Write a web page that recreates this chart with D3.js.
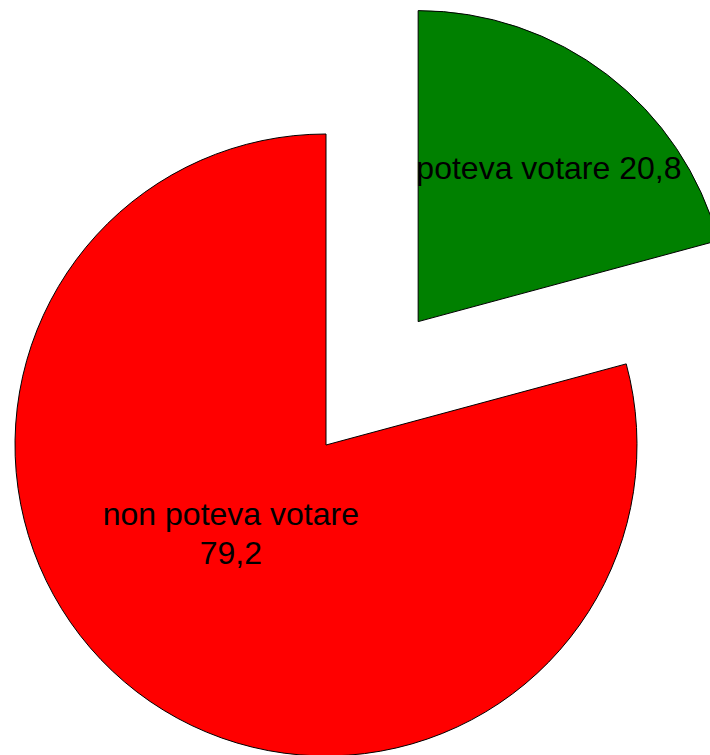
<!DOCTYPE html>
<html>
<head>
<meta charset="utf-8">
<script src="https://cdn.jsdelivr.net/npm/d3@7"></script>
<style>
  html, body { margin: 0; padding: 0; background: #fff; }
  svg { display: block; }
</style>
</head>
<body>
<svg id="chart" width="710" height="755"></svg>
<script>
// Data
const categories = ["poteva votare", "non poteva votare"];
const values = [20.8, 79.2];
const valueLabels = ["20,8", "79,2"];
const colors = ["#008000", "#FF0000"];
const exploded = [true, false];

const W = 710, H = 755;
const cx = 326, cy = 445, R = 311;
const explodeDist = 154;

const svg = d3.select("#chart");

const pie = d3.pie().sort(null).value(d => d.value);
const data = pie(categories.map((c, i) => ({ name: c, value: values[i], label: valueLabels[i], color: colors[i], exploded: exploded[i] })));

const arc = d3.arc().innerRadius(0).outerRadius(R);

const g = svg.append("g").attr("transform", `translate(${cx},${cy})`);

function offset(d) {
  if (!d.data.exploded) return [0, 0];
  const a = (d.startAngle + d.endAngle) / 2 - 0.012;
  return [Math.sin(a) * explodeDist, -Math.cos(a) * explodeDist];
}

const slices = g.selectAll("g.slice").data(data).enter().append("g")
  .attr("class", "slice")
  .attr("transform", d => { const o = offset(d); return `translate(${o[0]},${o[1]})`; });

slices.append("path")
  .attr("d", arc)
  .attr("fill", d => d.data.color)
  .attr("stroke", "#000")
  .attr("stroke-width", 1);

// label placement (polar, relative to slice centre)
const labelPolar = [
  { angle: 40.3, r: 0.65, lines: d => [d.data.name + " " + d.data.label] },
  { angle: 227.2, r: 0.417, lines: d => [d.data.name, d.data.label] }
];

slices.each(function(d, i) {
  const lp = labelPolar[i];
  const a = lp.angle * Math.PI / 180;
  const x = Math.sin(a) * lp.r * R;
  const y = -Math.cos(a) * lp.r * R;
  const lines = lp.lines(d);
  const lh = 39;
  const t = d3.select(this).append("text")
    .attr("text-anchor", "middle")
    .attr("font-family", "'Liberation Sans', Arial, sans-serif")
    .attr("font-size", 32)
    .attr("fill", "#000");
  lines.forEach((ln, k) => {
    t.append("tspan")
      .attr("x", x)
      .attr("y", y + (k - (lines.length - 1) / 2) * lh)
      .attr("dy", "0.35em")
      .text(ln);
  });
});
</script>
</body>
</html>
